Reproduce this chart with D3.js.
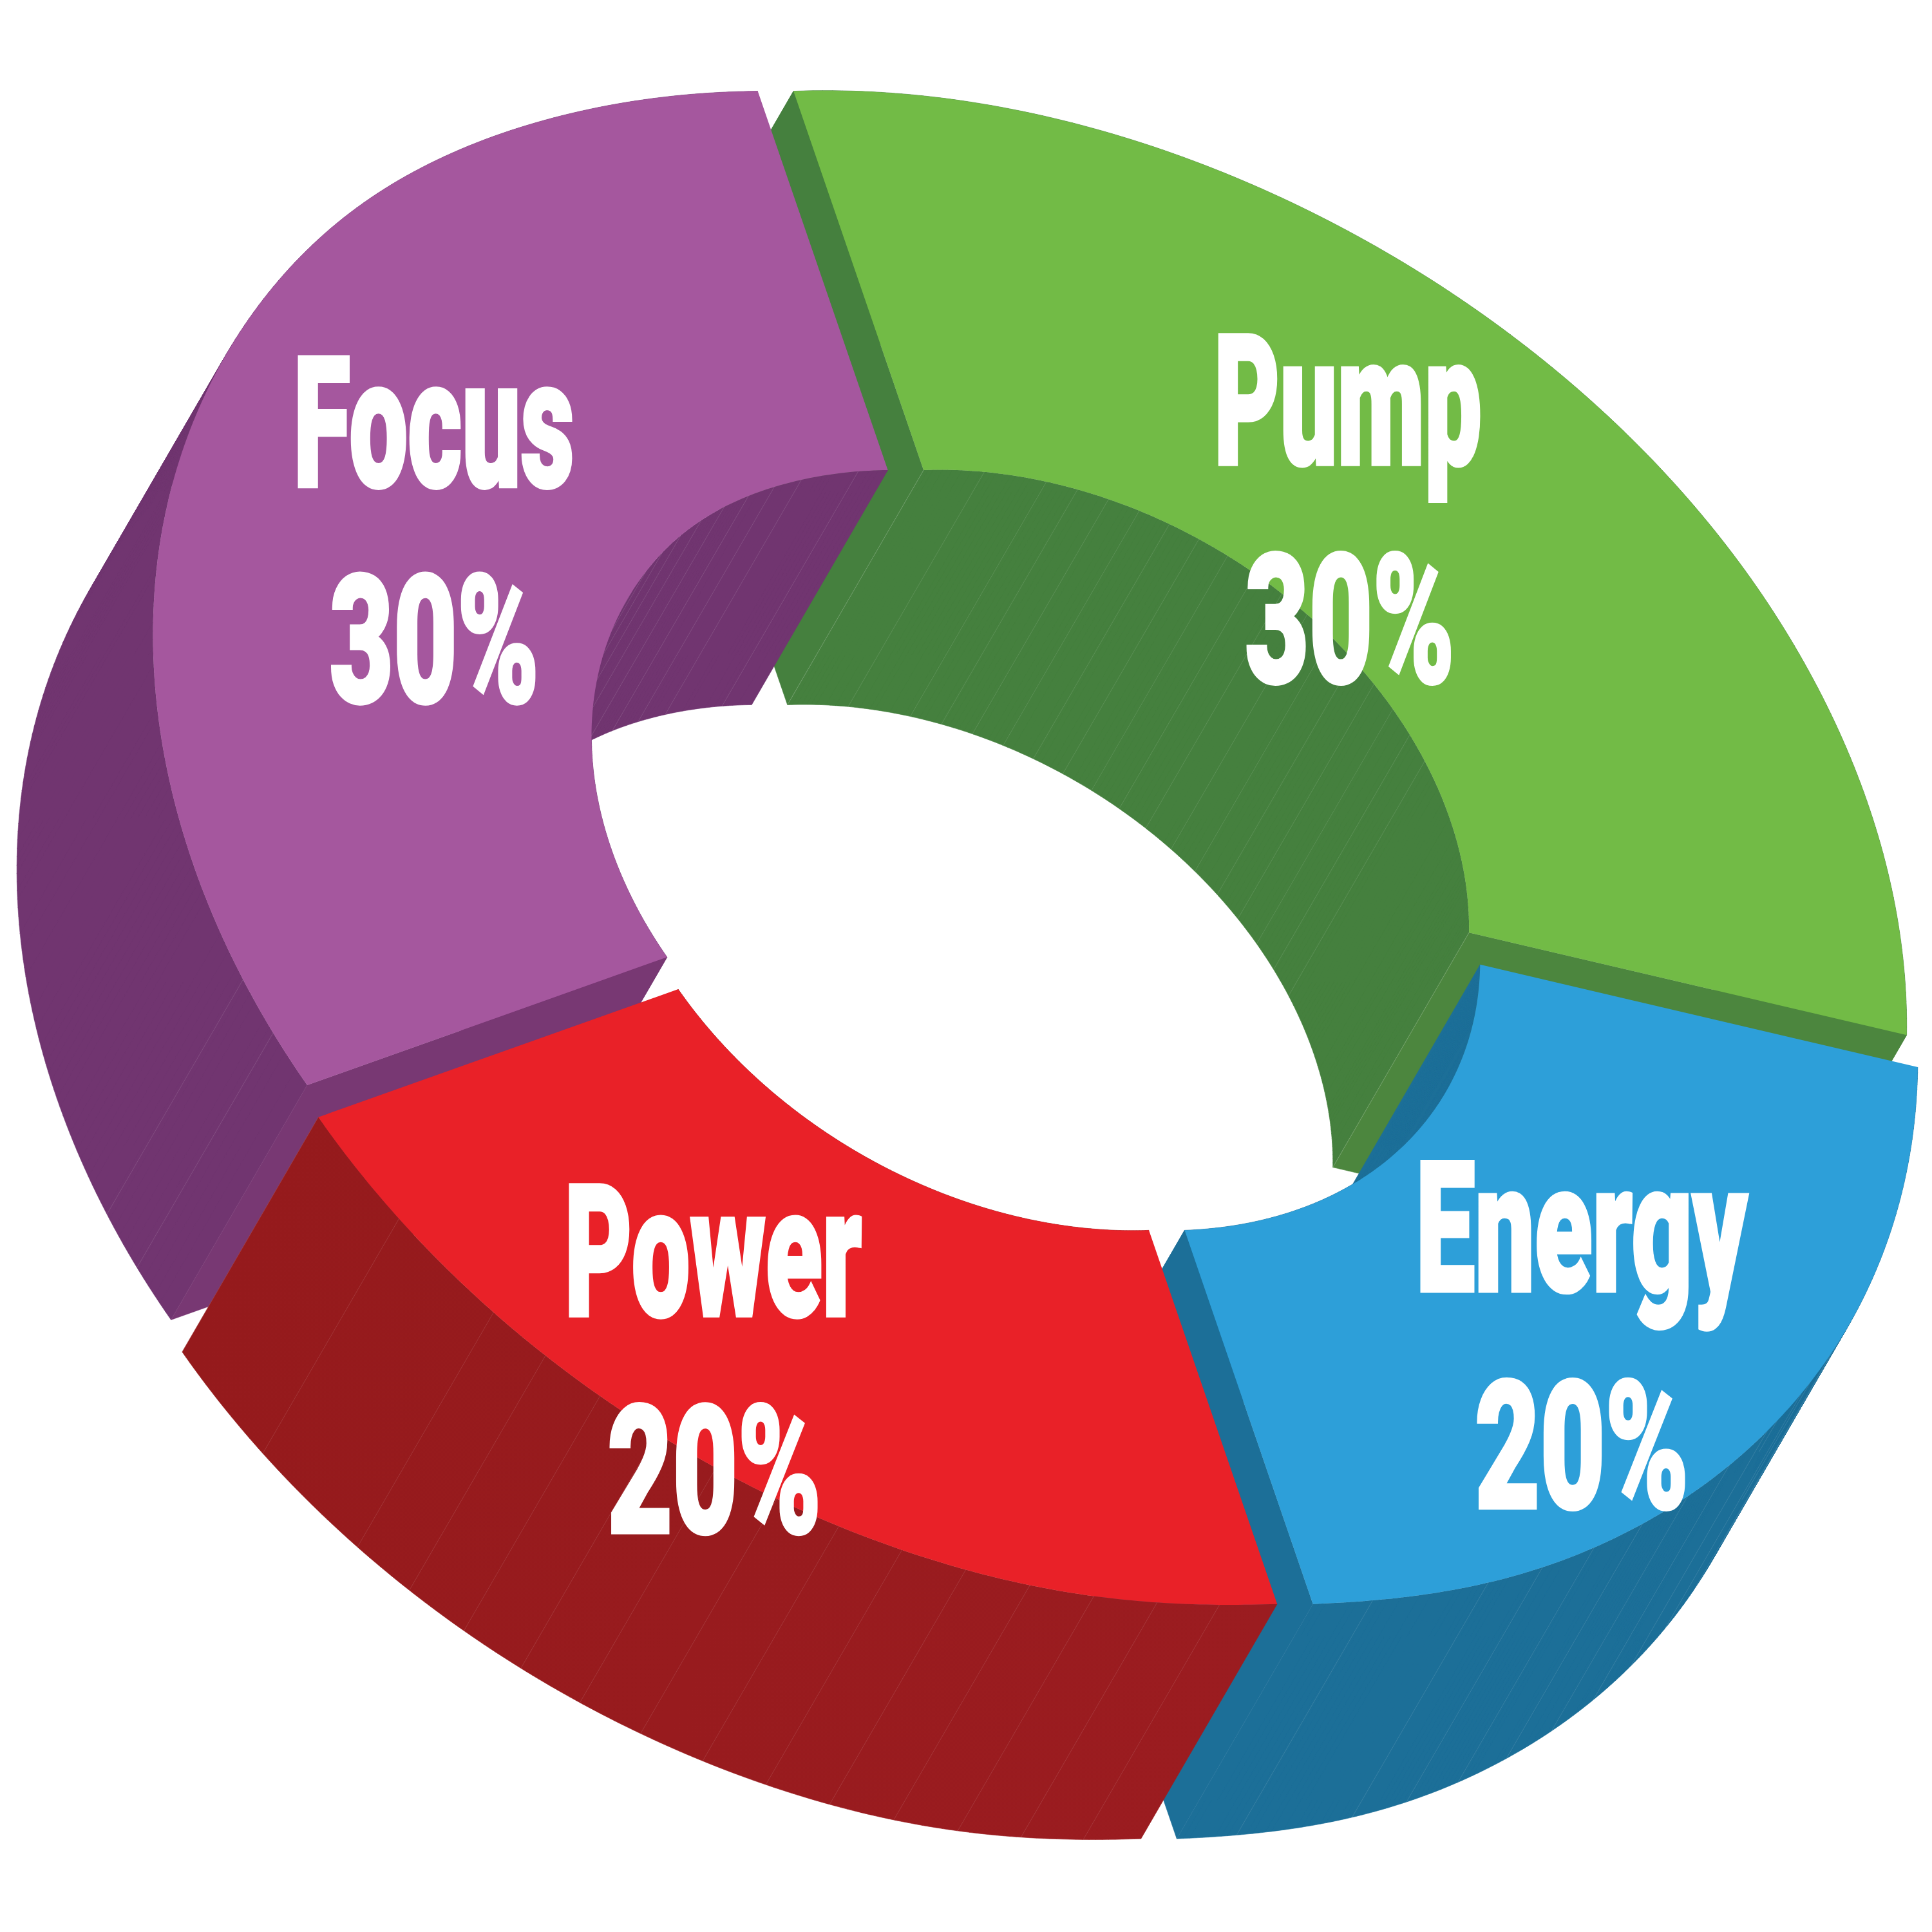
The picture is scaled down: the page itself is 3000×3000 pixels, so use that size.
<!DOCTYPE html>
<html><head><meta charset="utf-8">
<script src="https://cdn.jsdelivr.net/npm/d3@7/dist/d3.min.js"></script>
<style>html,body{margin:0;padding:0;background:#fff}svg{display:block}</style>
</head><body><svg id="chart" width="3000" height="3000"></svg>
<script>
// ---- data ----
const categories = ["Pump", "Energy", "Power", "Focus"];
const shares = [30, 20, 20, 30];
const shareLabels = ["30%", "20%", "20%", "30%"];

// ---- styles ----
const topColors   = ["#72bb46", "#2d9fd9", "#e92128", "#a5579e"];
const wallColors  = ["#45803e", "#1c6f98", "url(#powerWall)", "#713570"];
const sideColors  = ["#4c863e", "#1c6f98", "#981b1e", "#783873"];
const paintOrder  = [0, 3, 1, 2];
// which radial cut faces can be seen: [start, end]
const visibleSides = [[true, true], [false, true], [false, false], [true, false]];

// ---- layout (reference pixels = 3000/1568 of these units) ----
const k = 3000 / 1568;
const centre = [851, 677];
const axisU = [-207, -603];
const axisV = [665, -24.5];
const depth = [-110.5, 190.5];
const holeRatio = 0.49;
const offsets = [[0, 0], [9, 26], [-20, 26], [-29, 0]];
// ink box of each label in layout units: left, right, cap top, baseline
const nameBoxes = [[988, 1202, 270, 378], [1152, 1420, 941, 1049], [461, 700, 960, 1069], [241, 465, 288, 396]];
const shareBoxes = [[1011, 1178, 448, 555], [1198, 1368, 1119, 1225], [494, 664, 1139, 1245], [268, 435, 465, 571]];

const svg = d3.select("#chart");
const defs = svg.append("defs");
const grad = defs.append("linearGradient").attr("id", "powerWall").attr("gradientUnits", "userSpaceOnUse")
  .attr("x1", 280).attr("y1", 2100).attr("x2", 1980).attr("y2", 2500);
grad.append("stop").attr("offset", 0).attr("stop-color", "#951a1c");
grad.append("stop").attr("offset", 1).attr("stop-color", "#9b1c20");

const px = d3.scaleLinear().domain([0, 1568]).range([0, 1568 * k]);
const pie = d3.pie().sort(null).value(d => d);
const arcs = pie(shares);
const line = d3.line().x(d => px(d[0])).y(d => px(d[1]));
const deg = Math.PI / 180;
// hand-drawn rim of the reference: border shift and small smooth deviations from a true ellipse
const rimAngle = d3.scaleLinear().domain([0, 180, 252, 360].map(d => d * deg)).range([0, 180, 252.6, 360].map(d => d * deg));
const focusBulge = d3.interpolateBasis([0, 0, 0.001, 0.004, 0.010, 0.018, 0.008, 0]);
function rimFactor(angle, r, i) {
  if (i === 3) return 1 + focusBulge((angle - 252 * deg) / (108 * deg));
  if (r !== 1) return 1;
  if (i === 0) { const s = Math.sin(Math.PI * Math.min(angle / (75 * deg), 1)); return 1 - 0.004 * s * s; }
  if (i === 1 || i === 2) { const e = (angle - 180 * deg) / (12 * deg); return 1 - 0.007 * Math.exp(-e * e); }
  return 1;
}

function project(angle, r, off, dropped, i) {
  const c = r * rimFactor(angle, r, i), t = rimAngle(angle);
  return [
    centre[0] + off[0] + c * (axisU[0] * Math.cos(t) + axisV[0] * Math.sin(t)) + (dropped ? depth[0] : 0),
    centre[1] + off[1] + c * (axisU[1] * Math.cos(t) + axisV[1] * Math.sin(t)) + (dropped ? depth[1] : 0)
  ];
}
const sample = (a, b) => d3.range(0, 161).map(j => a + (b - a) * j / 160);

// facet lines of the walls, counted in 4.25 degree steps from one end of the slice
const stripeStep = 4.25 * deg;
const stripeRules = {
  "Pump-inner":   { from: "start", keep: n => n !== 1 && n !== 3 && n <= 19, closing: true },
  "Focus-inner":  { from: "end",   keep: n => n !== 0 && n !== 2 },
  "Focus-outer":  { from: "start", keep: n => n <= 2 },
  "Energy-outer": { from: "end",   keep: n => n !== 2 },
  "Power-outer":  { from: "end",   keep: n => n !== 1 && n !== 3 }
};

function wall(g, a, b, r, i) {
  const off = offsets[i], fill = wallColors[i];
  const quads = d3.pairs(sample(a, b)).map(([s, e]) => {
    const q = [project(s, r, off, false, i), project(e, r, off, false, i), project(e, r, off, true, i), project(s, r, off, true, i)];
    return d3.polygonArea(q) < 0 ? q.reverse() : q;
  });
  g.append("path").attr("d", quads.map(q => line(q) + "Z").join("")).attr("fill", fill).attr("stroke", fill).attr("stroke-width", 0.6);
  const rule = stripeRules[categories[i] + (r === 1 ? "-outer" : "-inner")];
  if (!rule) return;
  const count = Math.floor((b - a) / stripeStep);
  const angles = d3.range(0, count + 1).filter(rule.keep).map(n => rule.from === "start" ? a + n * stripeStep : b - n * stripeStep);
  if (rule.closing) angles.push(b);
  g.selectAll(null).data(angles).join("line")
    .attr("x1", t => px(project(t, r, off, false, i)[0]))
    .attr("y1", t => px(project(t, r, off, false, i)[1]))
    .attr("x2", t => px(project(t, r, off, true, i)[0]))
    .attr("y2", t => px(project(t, r, off, true, i)[1]))
    .attr("stroke", "#fff").attr("stroke-opacity", 0.12).attr("stroke-width", 1);
}
function side(g, t, i, fill) {
  const off = offsets[i];
  const pts = [project(t, 1, off, false, i), project(t, holeRatio, off, false, i),
               project(t, holeRatio, off, true, i), project(t, 1, off, true, i)];
  g.append("path").attr("d", line(pts) + "Z").attr("fill", fill).attr("stroke", fill).attr("stroke-width", 0.6);
}

paintOrder.forEach(i => {
  const a = arcs[i], off = offsets[i];
  const g = svg.append("g").attr("data-name", categories[i]);
  wall(g, a.startAngle, a.endAngle, holeRatio, i);
  wall(g, a.startAngle, a.endAngle, 1, i);
  if (visibleSides[i][0]) side(g, a.startAngle, i, i === 0 ? "#45803e" : sideColors[i]);
  if (visibleSides[i][1]) side(g, a.endAngle, i, sideColors[i]);
  if (i === 0) { // facet line between the inner wall and the cut face
    [a.startAngle, a.endAngle].forEach(t => g.append("path")
      .attr("d", line([project(t, holeRatio, off, false, i), project(t, holeRatio, off, true, i)]))
      .attr("stroke", "#fff").attr("stroke-opacity", 0.18).attr("stroke-width", 1));
  }
  const ts = sample(a.startAngle, a.endAngle);
  const face = ts.map(t => project(t, 1, off, false, i)).concat(ts.slice().reverse().map(t => project(t, holeRatio, off, false, i)));
  g.append("path").attr("d", line(face) + "Z").attr("fill", topColors[i]);
});

// ---- labels ----
const fontFamily = 'Roboto,"Liberation Sans",sans-serif';
const ctx = document.createElement("canvas").getContext("2d");
const baseSize = 200, thicken = 5, weight = 900;
ctx.font = `${weight} ${baseSize}px ${fontFamily}`;
const capHeight = ctx.measureText("H").actualBoundingBoxAscent;

function fitLabel(text, box) {
  const m = ctx.measureText(text);
  const inkW = m.actualBoundingBoxLeft + m.actualBoundingBoxRight;
  const sx = (px(box[1] - box[0]) - thicken) / inkW;
  const sy = (px(box[3] - box[2]) - thicken) / capHeight;
  const x = px(box[0]) + thicken / 2 + m.actualBoundingBoxLeft * sx;
  const y = px(box[3]) - thicken / 2;
  svg.append("text").text(text)
    .attr("transform", `translate(${x},${y}) scale(${sx},${sy})`)
    .attr("font-family", fontFamily).attr("font-weight", weight).attr("font-size", baseSize)
    .attr("fill", "#fff").attr("stroke", "#fff").attr("stroke-width", thicken)
    .attr("stroke-linejoin", "miter")
    .style("vector-effect", "non-scaling-stroke");
}
categories.forEach((name, i) => {
  fitLabel(name, nameBoxes[i]);
  fitLabel(shareLabels[i], shareBoxes[i]);
});
</script></body></html>
